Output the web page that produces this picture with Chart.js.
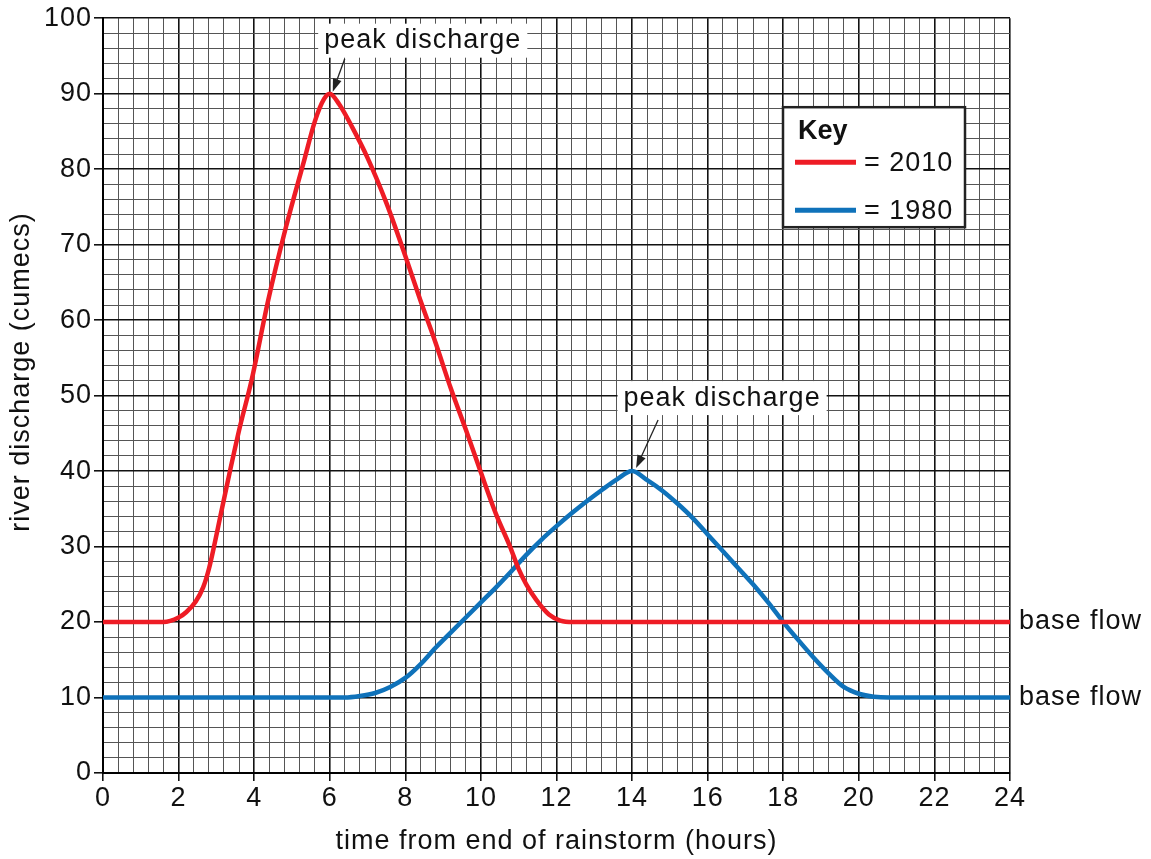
<!DOCTYPE html>
<html>
<head>
<meta charset="utf-8">
<script src="https://cdn.jsdelivr.net/npm/chart.js@4.4.1/dist/chart.umd.min.js"></script>
<style>
  html, body { margin: 0; padding: 0; background: #fff; }
  #wrap { width: 1151px; height: 859px; }
</style>
</head>
<body>
<div id="wrap"><canvas id="myChart" width="1151" height="859"></canvas></div>
<script>
"use strict";

var hours2010 = [0, 1.6, 2.0, 2.2, 2.45, 2.65, 2.8, 2.95, 3.1, 3.36, 3.62, 3.93, 4.37, 4.84, 5.32, 5.61, 5.85, 6.0, 6.25, 6.6, 7.0, 7.5, 8.0, 8.4, 8.8, 9.2, 9.6, 10.0, 10.4, 10.77, 11.0, 11.2, 11.47, 11.8, 12.1, 12.43, 24];
var discharge2010 = [20, 20, 20.6, 21.3, 22.7, 24.6, 27, 30.3, 33.9, 40, 45.8, 52, 62.6, 72.3, 81.1, 86.4, 89.3, 90, 88.6, 85.5, 81.5, 75.5, 68.5, 62.6, 57, 51, 45.5, 39.8, 34.3, 30, 27, 25, 22.9, 21, 20.2, 20, 20];

var hours1980 = [0, 6.4, 6.8, 7.2, 7.6, 8.0, 8.4, 8.8, 9.2, 9.6, 10.0, 10.4, 10.8, 11.2, 11.6, 12.0, 12.4, 12.8, 13.2, 13.6, 14.0, 14.4, 14.8, 15.2, 15.6, 16.0, 16.4, 16.8, 17.2, 17.6, 18.0, 18.4, 18.8, 19.2, 19.6, 20.0, 20.4, 20.8, 24];
var discharge1980 = [10, 10, 10.2, 10.6, 11.4, 12.6, 14.4, 16.6, 18.6, 20.6, 22.6, 24.6, 26.7, 28.9, 30.9, 32.7, 34.4, 36, 37.5, 38.9, 40, 38.8, 37.4, 35.7, 33.8, 31.6, 29.4, 27.2, 25, 22.6, 20, 17.6, 15.3, 13.2, 11.4, 10.5, 10.1, 10, 10];

var xTickLabels = [0, 2, 4, 6, 8, 10, 12, 14, 16, 18, 20, 22, 24];
var yTickLabels = [0, 10, 20, 30, 40, 50, 60, 70, 80, 90, 100];

var seriesNames = ["= 2010", "= 1980"];
var baseFlow2010 = 20;
var baseFlow1980 = 10;

const FONT = "'Liberation Sans', Arial, Helvetica, sans-serif";
const FSIZE = 27;
const RED = '#ee1c25';
const BLUE = '#0f72ba';

function toPoints(xs, ys) {
    return xs.map(function (x, i) { return { x: x, y: ys[i] }; });
}

function isMajor(value, labels) {
    return labels.some(function (l) { return Math.abs(l - value) < 1e-6; });
}

function drawArrow(ctx, x1, y1, x2, y2) {
    var ang = Math.atan2(y2 - y1, x2 - x1);
    ctx.save();
    ctx.strokeStyle = '#222';
    ctx.fillStyle = '#222';
    ctx.lineWidth = 1.3;
    ctx.beginPath();
    ctx.moveTo(x1, y1);
    ctx.lineTo(x2 - 10 * Math.cos(ang), y2 - 10 * Math.sin(ang));
    ctx.stroke();
    ctx.beginPath();
    ctx.moveTo(x2, y2);
    ctx.lineTo(x2 - 13 * Math.cos(ang) + 4.5 * Math.sin(ang), y2 - 13 * Math.sin(ang) - 4.5 * Math.cos(ang));
    ctx.lineTo(x2 - 13 * Math.cos(ang) - 4.5 * Math.sin(ang), y2 - 13 * Math.sin(ang) + 4.5 * Math.cos(ang));
    ctx.closePath();
    ctx.fill();
    ctx.restore();
}

function peakLabel(ctx, text, cx, cy) {
    ctx.save();
    ctx.font = FSIZE + 'px ' + FONT;
    var w = ctx.measureText(text).width;
    ctx.fillStyle = '#fff';
    ctx.fillRect(cx - w / 2 - 6, cy - 16, w + 12, 34);
    ctx.fillStyle = '#111';
    ctx.textAlign = 'center';
    ctx.textBaseline = 'middle';
    ctx.fillText(text, cx, cy + 1);
    ctx.restore();
}

function spacing(chart) {
    chart.ctx.letterSpacing = '1px';
}

const overlay = {
    id: 'overlay',
    beforeUpdate: spacing,
    beforeLayout: spacing,
    beforeDraw: spacing,
    afterDraw(chart) {
        const ctx = chart.ctx;
        const x = chart.scales.x;
        const y = chart.scales.y;
        const area = chart.chartArea;
        ctx.letterSpacing = '1px';

        // y axis title (sits a bit above the centre in the original)
        ctx.save();
        ctx.translate(22, 372);
        ctx.rotate(-Math.PI / 2);
        ctx.font = FSIZE + 'px ' + FONT;
        ctx.fillStyle = '#111';
        ctx.textAlign = 'center';
        ctx.textBaseline = 'middle';
        ctx.fillText('river discharge (cumecs)', 0, 0);
        ctx.restore();

        // peak discharge labels
        var p1x = x.getPixelForValue(6), p1y = y.getPixelForValue(90);
        peakLabel(ctx, 'peak discharge', p1x + 93, p1y - 54);
        drawArrow(ctx, p1x + 15, p1y - 35, p1x + 3, p1y - 2);

        var p2x = x.getPixelForValue(14), p2y = y.getPixelForValue(40);
        peakLabel(ctx, 'peak discharge', p2x + 90, p2y - 74);
        drawArrow(ctx, p2x + 26, p2y - 51, p2x + 4, p2y - 3);

        // base flow labels
        ctx.save();
        ctx.font = FSIZE + 'px ' + FONT;
        ctx.fillStyle = '#111';
        ctx.textAlign = 'left';
        ctx.textBaseline = 'middle';
        ctx.fillText('base flow', area.right + 9, y.getPixelForValue(baseFlow2010));
        ctx.fillText('base flow', area.right + 9, y.getPixelForValue(baseFlow1980));
        ctx.restore();

        // key box
        var kx = area.left + 680, ky = area.top + 89, kw = 182, kh = 120;
        ctx.save();
        ctx.fillStyle = '#fff';
        ctx.fillRect(kx, ky, kw, kh);
        ctx.strokeStyle = '#222';
        ctx.lineWidth = 2.5;
        ctx.strokeRect(kx, ky, kw, kh);
        ctx.fillStyle = '#111';
        ctx.textBaseline = 'middle';
        ctx.font = 'bold ' + FSIZE + 'px ' + FONT;
        ctx.letterSpacing = '0px';
        ctx.fillText('Key', kx + 15, ky + 24);
        ctx.letterSpacing = '1px';
        var cols = [RED, BLUE];
        for (var i = 0; i < 2; i++) {
            var ly = ky + 55 + i * 48;
            ctx.strokeStyle = cols[i];
            ctx.lineWidth = 5;
            ctx.beginPath();
            ctx.moveTo(kx + 12, ly);
            ctx.lineTo(kx + 73, ly);
            ctx.stroke();
            ctx.font = FSIZE + 'px ' + FONT;
            ctx.fillStyle = '#111';
            ctx.fillText(seriesNames[i], kx + 81, ly + 1);
        }
        ctx.restore();
    }
};

const ctx = document.getElementById('myChart').getContext('2d');
const myChart = new Chart(ctx, {
    type: 'line',
    data: {
        datasets: [{
            label: '2010',
            data: toPoints(hours2010, discharge2010),
            borderColor: RED,
            borderWidth: 4.5,
            pointRadius: 0,
            cubicInterpolationMode: 'monotone'
        }, {
            label: '1980',
            data: toPoints(hours1980, discharge1980),
            borderColor: BLUE,
            borderWidth: 4.5,
            pointRadius: 0,
            cubicInterpolationMode: 'monotone'
        }]
    },
    options: {
        responsive: false,
        animation: false,
        devicePixelRatio: 1,
        layout: { padding: { top: 17, right: 141, left: 0, bottom: 0 } },
        plugins: {
            legend: { display: false },
            tooltip: { enabled: false }
        },
        scales: {
            x: {
                type: 'linear',
                min: 0,
                max: 24,
                afterFit: function (s) { s.height = 86; },
                border: { color: '#000', width: 2 },
                grid: {
                    color: function (c) { return isMajor(c.tick.value, xTickLabels) ? '#111' : '#555'; },
                    lineWidth: function (c) { return isMajor(c.tick.value, xTickLabels) ? 1.6 : 1; },
                    tickColor: function (c) { return isMajor(c.tick.value, xTickLabels) ? '#111' : 'rgba(0,0,0,0)'; },
                    tickLength: 8
                },
                ticks: {
                    stepSize: 0.4,
                    autoSkip: false,
                    maxRotation: 0,
                    padding: 1,
                    color: '#111',
                    font: { family: FONT, size: FSIZE },
                    callback: function (v) { return isMajor(v, xTickLabels) ? String(Math.round(v)) : ''; }
                },
                title: {
                    display: true,
                    text: 'time from end of rainstorm (hours)',
                    color: '#111',
                    font: { family: FONT, size: FSIZE },
                    padding: { top: 0, bottom: 1 }
                }
            },
            y: {
                min: 0,
                max: 100,
                afterFit: function (s) { s.width = 103; },
                border: { color: '#000', width: 2 },
                grid: {
                    color: function (c) { return isMajor(c.tick.value, yTickLabels) ? '#111' : '#555'; },
                    lineWidth: function (c) { return isMajor(c.tick.value, yTickLabels) ? 1.6 : 1; },
                    tickColor: function (c) { return isMajor(c.tick.value, yTickLabels) ? '#111' : 'rgba(0,0,0,0)'; },
                    tickLength: 9
                },
                ticks: {
                    stepSize: 2,
                    autoSkip: false,
                    padding: 2,
                    color: '#111',
                    font: { family: FONT, size: FSIZE },
                    callback: function (v) { return isMajor(v, yTickLabels) ? String(v) : ''; }
                },
                title: { display: false }
            }
        }
    },
    plugins: [overlay]
});
</script>
</body>
</html>
